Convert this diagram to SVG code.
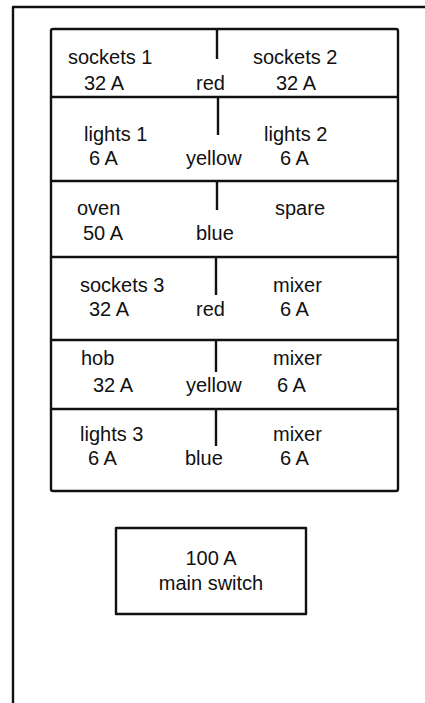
<svg xmlns="http://www.w3.org/2000/svg" width="425" height="703" viewBox="0 0 425 703">
<style>
.ln{fill:none;stroke:#111;stroke-width:2.4;stroke-linejoin:round}
.t{font-family:"Liberation Sans",Arial,sans-serif;font-size:20px;fill:#111}
.m{text-anchor:middle}
</style>
<rect x="0" y="0" width="425" height="703" fill="#fff"/>
<g id="frame">
<path class="ln" d="M13,703 V7 H425"/>
</g>
<g id="board">
<rect class="ln" x="51" y="29" width="347" height="462" rx="2"/>
</g>
<g id="connectors">
<path class="ln" d="M51,97 H398 M51,181 H398 M51,257 H398 M51,340 H398 M51,409 H398"/>
<path class="ln" d="M217,29 V59 M218,97 V135 M217,181 V210 M216,257 V295 M216,340 V372 M216,409 V446"/>
</g>
<g id="row1">
<text class="t" x="68" y="64">sockets 1</text>
<text class="t" x="84" y="90">32 A</text>
<text class="t" x="196" y="90">red</text>
<text class="t" x="253" y="64">sockets 2</text>
<text class="t" x="276" y="90">32 A</text>
</g>
<g id="row2">
<text class="t" x="84" y="141">lights 1</text>
<text class="t" x="89" y="165">6 A</text>
<text class="t" x="186" y="165">yellow</text>
<text class="t" x="264" y="141">lights 2</text>
<text class="t" x="280" y="165">6 A</text>
</g>
<g id="row3">
<text class="t" x="77" y="215">oven</text>
<text class="t" x="83" y="240">50 A</text>
<text class="t" x="196" y="240">blue</text>
<text class="t" x="275" y="215">spare</text>
</g>
<g id="row4">
<text class="t" x="80" y="292">sockets 3</text>
<text class="t" x="89" y="316">32 A</text>
<text class="t" x="196" y="316">red</text>
<text class="t" x="273" y="292">mixer</text>
<text class="t" x="280" y="316">6 A</text>
</g>
<g id="row5">
<text class="t" x="81" y="365">hob</text>
<text class="t" x="93" y="392">32 A</text>
<text class="t" x="186" y="392">yellow</text>
<text class="t" x="273" y="365">mixer</text>
<text class="t" x="277" y="392">6 A</text>
</g>
<g id="row6">
<text class="t" x="80" y="441">lights 3</text>
<text class="t" x="88" y="465">6 A</text>
<text class="t" x="185" y="465">blue</text>
<text class="t" x="273" y="441">mixer</text>
<text class="t" x="280" y="465">6 A</text>
</g>
<g id="mainswitch">
<rect class="ln" x="116" y="528" width="190" height="86"/>
<text class="t m" x="211" y="565">100 A</text>
<text class="t m" x="211" y="590">main switch</text>
</g>
</svg>
